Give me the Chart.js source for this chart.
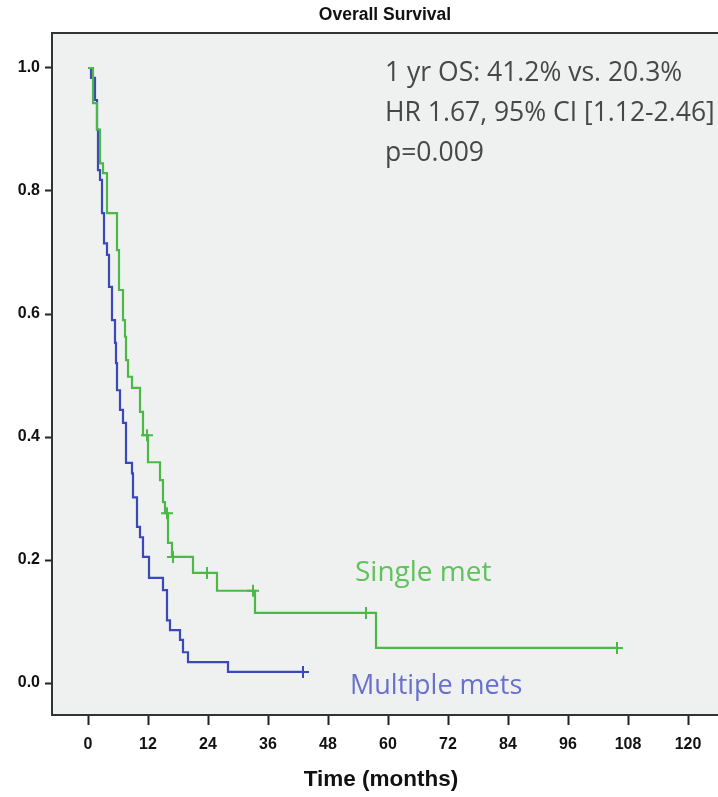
<!DOCTYPE html>
<html>
<head>
<meta charset="utf-8">
<script src="https://cdn.jsdelivr.net/npm/chart.js@4.4.1/dist/chart.umd.min.js"></script>
<style>
  html, body { margin: 0; padding: 0; background: #ffffff; }
  #wrap { width: 718px; height: 797px; }
</style>
</head>
<body>
<div id="wrap"><canvas id="km"></canvas></div>
<script>
// Kaplan-Meier data (months, survival)
const xTicks = [0, 12, 24, 36, 48, 60, 72, 84, 96, 108, 120];
const yTicks = [0.0, 0.2, 0.4, 0.6, 0.8, 1.0];

const singleTimes = [0, 1.0, 1.8, 2.4, 3.0, 3.8, 5.8, 6.2, 7.0, 7.4, 7.6, 8.0, 8.8, 10.4, 11.0, 12.0, 14.4, 15.0, 15.4, 16.0, 16.8, 21.0, 25.8, 33.4, 57.6, 105.8];
const singleSurv  = [1.0, 0.943, 0.90, 0.845, 0.829, 0.764, 0.704, 0.639, 0.59, 0.563, 0.525, 0.498, 0.480, 0.441, 0.403, 0.359, 0.33, 0.294, 0.276, 0.228, 0.205, 0.179, 0.150, 0.114, 0.057, 0.057];
const singleCensorTimes = [11.8, 15.8, 17.0, 23.8, 33.0, 55.6, 105.8];
const singleCensorSurv  = [0.403, 0.276, 0.205, 0.179, 0.150, 0.114, 0.057];

const multiTimes = [0, 0.6, 1.4, 1.8, 2.0, 2.4, 2.8, 3.2, 3.8, 4.2, 4.8, 5.4, 5.6, 5.8, 6.4, 7.0, 7.6, 8.8, 9.0, 9.8, 10.4, 11.0, 12.2, 15.0, 15.8, 16.4, 18.4, 19.0, 20.0, 28.0, 43.0];
const multiSurv  = [1.0, 0.984, 0.948, 0.90, 0.834, 0.818, 0.764, 0.715, 0.696, 0.644, 0.590, 0.553, 0.52, 0.476, 0.444, 0.423, 0.358, 0.341, 0.302, 0.254, 0.237, 0.205, 0.171, 0.151, 0.102, 0.086, 0.070, 0.050, 0.034, 0.018, 0.018];
const multiCensorTimes = [43.0];
const multiCensorSurv  = [0.018];

const statLines = ['1 yr OS: 41.2% vs. 20.3%', 'HR 1.67, 95% CI [1.12-2.46]', 'p=0.009'];

const green = 'rgb(76,184,72)';
const blue = 'rgb(58,72,186)';

function toPoints(xs, ys) {
    return xs.map((x, i) => ({ x: x, y: ys[i] }));
}

// background, frame and the text pieces that live on the canvas
const decorPlugin = {
    id: 'decor',
    beforeDraw(chart) {
        const { ctx, chartArea: a } = chart;
        ctx.save();
        ctx.fillStyle = '#eff1f0';
        ctx.fillRect(a.left, a.top, chart.width - a.left, a.bottom - a.top);
        ctx.restore();
    },
    afterDraw(chart) {
        const { ctx, chartArea: a } = chart;
        ctx.save();
        // top frame line, and the bottom one carried on to the edge
        ctx.strokeStyle = '#333';
        ctx.lineWidth = 2;
        ctx.beginPath();
        ctx.moveTo(a.left - 1, a.top);
        ctx.lineTo(chart.width, a.top);
        ctx.moveTo(a.right - 1, a.bottom);
        ctx.lineTo(chart.width, a.bottom);
        ctx.stroke();

        // chart title
        ctx.fillStyle = '#111';
        ctx.font = 'bold 17.5px "Liberation Sans", Arial, sans-serif';
        ctx.textAlign = 'center';
        ctx.textBaseline = 'middle';
        ctx.fillText('Overall Survival', 385, 15);

        // stats box
        ctx.fillStyle = '#474747';
        ctx.font = '26.5px "Open Sans", "Noto Sans", sans-serif';
        ctx.textAlign = 'left';
        statLines.forEach((t, i) => ctx.fillText(t, 385, 73 + i * 40));

        // group labels
        ctx.font = '28px "Open Sans", "Noto Sans", sans-serif';
        ctx.fillStyle = 'rgb(96,194,92)';
        ctx.fillText('Single met', 355, 573);
        ctx.font = '27px "Open Sans", "Noto Sans", sans-serif';
        ctx.fillStyle = 'rgb(104,112,204)';
        ctx.fillText('Multiple mets', 350, 686);
        ctx.restore();
    }
};

const ctx = document.getElementById('km');

new Chart(ctx, {
    type: 'scatter',
    data: {
        datasets: [{
            label: 'Single met',
            data: toPoints(singleTimes, singleSurv),
            showLine: true,
            stepped: true,
            borderColor: green,
            borderWidth: 2.2,
            pointRadius: 0
        }, {
            label: 'Multiple mets',
            data: toPoints(multiTimes, multiSurv),
            showLine: true,
            stepped: true,
            borderColor: blue,
            borderWidth: 2.2,
            pointRadius: 0
        }, {
            label: 'Single met censored',
            data: toPoints(singleCensorTimes, singleCensorSurv),
            pointStyle: 'cross',
            pointRadius: 6,
            borderColor: green,
            borderWidth: 2
        }, {
            label: 'Multiple mets censored',
            data: toPoints(multiCensorTimes, multiCensorSurv),
            pointStyle: 'cross',
            pointRadius: 6,
            borderColor: blue,
            borderWidth: 2
        }]
    },
    options: {
        responsive: true,
        maintainAspectRatio: false,
        animation: false,
        layout: { padding: { top: 33, right: 0, left: 0, bottom: 0 } },
        plugins: {
            legend: { display: false },
            tooltip: { enabled: false }
        },
        scales: {
            x: {
                type: 'linear',
                min: -7.2,
                max: 124.4,
                afterBuildTicks: axis => { axis.ticks = xTicks.map(v => ({ value: v })); },
                afterFit: axis => { axis.height = 82; },
                border: { display: true, color: '#333', width: 2 },
                grid: { drawOnChartArea: false, drawTicks: true, tickLength: 10, color: '#222', tickWidth: 2 },
                ticks: {
                    color: '#111',
                    padding: 10,
                    maxRotation: 0,
                    font: { family: '"Liberation Sans", Arial', size: 16, weight: 'bold' }
                },
                title: {
                    display: true,
                    text: 'Time (months)',
                    color: '#111',
                    padding: { top: 3 },
                    font: { family: '"Liberation Sans", Arial', size: 22.5, weight: 'bold' }
                }
            },
            y: {
                type: 'linear',
                min: -0.052,
                max: 1.0569,
                afterBuildTicks: axis => { axis.ticks = yTicks.map(v => ({ value: v })); },
                afterFit: axis => { axis.width = 52; },
                border: { display: true, color: '#333', width: 2 },
                grid: { drawOnChartArea: false, drawTicks: true, tickLength: 7, color: '#222', tickWidth: 2 },
                ticks: {
                    color: '#111',
                    padding: 5,
                    callback: v => v.toFixed(1),
                    font: { family: '"Liberation Sans", Arial', size: 16, weight: 'bold' }
                }
            }
        }
    },
    plugins: [decorPlugin]
});
</script>
</body>
</html>
